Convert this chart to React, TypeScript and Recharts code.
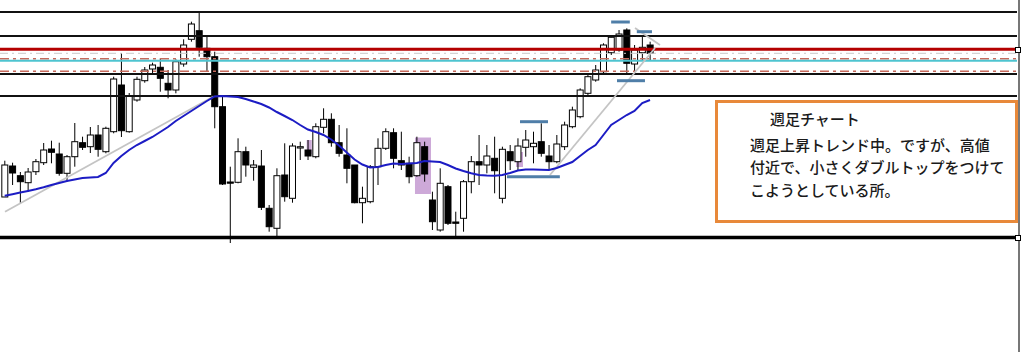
import { ComposedChart, Bar, Line, XAxis, YAxis, ReferenceLine, ReferenceArea } from 'recharts';

// weekly candles, price units (higher = up)
const opens = [53, 84, 74.3, 67.3, 78.3, 87.3, 101, 96, 76.7, 93.3, 107.3, 103.3, 115, 98.3, 118.3, 165, 118.3, 150, 169.3, 181, 182.7, 166.7, 160, 186, 210.7, 219.3, 201.7, 193.3, 143.3, 68, 67.7, 98.3, 82.7, 84, 41.7, 21.7, 75, 51.7, 102, 100, 93.3, 122.7, 130.7, 107.3, 95, 85, 47.3, 48.3, 83.3, 101.7, 117.3, 89.3, 86.7, 74.3, 103.3, 50, 20, 63.3, 28, 31.7, 68.3, 88.3, 85, 91.7, 51.7, 98.3, 88.3, 102.7, 103.3, 108.3, 94, 88.3, 103.3, 123.3, 133.3, 156.7, 170, 178.3, 197.3, 200, 220, 186, 197.3, 205];
const highs = [89.3, 87.3, 78, 82, 91, 107, 109.3, 107.3, 95, 127, 113.3, 123, 125, 123.3, 173.3, 197, 157, 173.3, 183, 187.3, 191.7, 180, 190.7, 210.7, 228.3, 237.5, 215, 198.3, 155, 83.3, 111.7, 103.3, 90, 100, 45, 81.7, 106.7, 106.7, 108.3, 110, 126.7, 141.7, 136.7, 125, 121.7, 85, 63.3, 85, 111.7, 121.7, 121.7, 118.3, 93.3, 113.3, 108.3, 58.3, 81.7, 65, 38.3, 70, 94, 115, 105, 113.3, 103.3, 105, 111.7, 120, 118.3, 126.7, 105, 115, 128.3, 143.3, 161.7, 175, 185, 206.7, 215, 220, 221.7, 205, 213.3, 208.3];
const lows = [53, 65, 47, 58.3, 75, 85, 86.7, 74.3, 68.3, 83.3, 100, 97, 93.3, 96.7, 116.7, 113, 117.3, 148.3, 167.3, 176.7, 158.3, 151.7, 156.7, 183.3, 208.3, 193.3, 178.3, 121.7, 65, 7, 66.7, 73.3, 69.3, 40, 18.3, 13.3, 48.3, 47.3, 90, 90, 91.7, 116.7, 103.3, 93.3, 66.7, 46.7, 26.7, 46.7, 65, 100, 81.7, 80, 66.7, 73.3, 68.3, 20, 18.3, 25, 11.7, 18.3, 56.7, 65, 76.7, 56.7, 46.7, 80, 80, 93.3, 86.7, 93.3, 80, 86.7, 100, 121.7, 131.7, 155, 168.3, 176.7, 195, 198.3, 176, 176, 190, 190];
const closes = [85, 77, 68.3, 78, 88.3, 100, 97.7, 76.7, 93.3, 108.3, 102.7, 115, 100.7, 121.7, 171, 119.3, 154, 170.7, 180, 185, 171.7, 160, 188.3, 205, 226, 202.7, 193.3, 143.3, 66, 67, 98.3, 85, 85, 42.7, 23.3, 74.3, 53.3, 104, 103.3, 94, 123.3, 130.7, 107.3, 96.7, 81.7, 47.3, 51.7, 83.3, 101.7, 118.3, 91.7, 85, 73.3, 107.3, 76, 28.3, 66.7, 26.7, 26.7, 68.3, 88.3, 85, 94, 79.3, 100.7, 89.3, 104, 110, 106.7, 96.7, 88.3, 106, 125, 140, 160, 173.3, 180, 205, 212.7, 216, 186.7, 200, 202.7, 196.7];
// 20-week moving average
const ma = [54.3, 55.8, 57.4, 59.1, 60.8, 62.7, 65, 67, 69, 70.5, 72, 72.5, 73, 77, 87, 94, 100, 105, 109, 113, 118, 123, 129, 134, 139, 144, 149, 153.5, 154, 153.5, 153, 151, 148.5, 146, 142.5, 138, 134, 130, 125, 120.5, 118, 115, 110.5, 104.5, 97.5, 90.5, 85.5, 82.5, 83, 85, 86.5, 86, 86.5, 87, 89, 88.5, 88, 85, 81.5, 79, 76.7, 75, 74.5, 74.3, 75, 77, 79.5, 80.5, 80.5, 80.3, 80, 82, 85, 88, 94, 100, 105, 115, 125, 130, 135, 139, 147, 150];

const levels = [
  { y: 238, color: '#111', width: 2, dash: undefined },
  { y: 214, color: '#111', width: 2, dash: undefined },
  { y: 200.7, color: '#b40000', width: 3, dash: undefined },
  { y: 196.7, color: '#c8c8c8', width: 1, dash: '8 4 2 4' },
  { y: 191.2, color: '#c66a5c', width: 1.5, dash: '9 4 3 4' },
  { y: 189.3, color: '#4ec4d0', width: 2, dash: undefined },
  { y: 178.7, color: '#c66a5c', width: 1.5, dash: '9 4 3 4' },
  { y: 176, color: '#111', width: 2, dash: undefined },
  { y: 154, color: '#111', width: 2, dash: undefined },
  { y: 12.5, color: '#000', width: 3.5, dash: undefined },
];

// highlight boxes [x1, x2, y1, y2]
const boxes = [
  [38.84, 39.49, 96, 110],
  [52.77, 54.83, 56, 112.5],
  [65.76, 66.66, 83, 98],
];

// short horizontal marks [x1, x2, y]
const marks = [
  [66.28, 69.88, 128.3],
  [64.6, 71.4, 73.3],
  [78.0, 80.4, 228],
  [78.75, 82.35, 169.3],
  [81.3, 83.25, 218.3],
];

// trend lines [x1, y1, x2, y2]
const trends = [
  [0.04, 38.3, 26.79, 153.3],
  [70.13, 75, 83.64, 202],
  [81.07, 222, 84.28, 205],
];

const data = opens.map((o, i) => ({
  i,
  open: o,
  high: highs[i],
  low: lows[i],
  close: closes[i],
  range: [lows[i], highs[i]],
  ma: ma[i],
}));

function Candle(props: any) {
  const { x, y, width, height, payload } = props;
  const { open, close, high, low } = payload;
  const k = height / (high - low || 1);
  const yv = (v: number) => y + (high - v) * k;
  const cx = x + width / 2;
  const top = yv(Math.max(open, close));
  const bot = yv(Math.min(open, close));
  return (
    <g>
      <line x1={cx} x2={cx} y1={y} y2={y + height} stroke="#000" strokeWidth={1} />
      <rect x={x} y={top} width={width} height={Math.max(bot - top, 1.2)} fill={close >= open ? '#fff' : '#000'} stroke="#000" strokeWidth={1} />
    </g>
  );
}

const textStyle: React.CSSProperties = {
  position: 'absolute',
  fontFamily: '"Noto Sans CJK JP", sans-serif',
  fontSize: 15,
  fontWeight: 500,
  color: '#1a1a1a',
  lineHeight: '20px',
  whiteSpace: 'nowrap',
};

export default function App() {
  return (
    <div style={{ position: 'absolute', left: 0, top: 0, width: 1024, height: 352, background: '#fff' }}>
      <ComposedChart width={1024} height={352} data={data} margin={{ top: 0, right: 7, bottom: 0, left: 0 }}>
        <XAxis dataKey="i" type="number" domain={[-0.6045, 130.2]} hide allowDataOverflow />
        <YAxis type="number" domain={[-102, 250]} hide allowDataOverflow />
        {levels.map((l, k) => (
          <ReferenceLine key={'l' + k} y={l.y} stroke={l.color} strokeWidth={l.width} strokeDasharray={l.dash} />
        ))}
        {boxes.map((b, k) => (
          <ReferenceArea key={'b' + k} x1={b[0]} x2={b[1]} y1={b[2]} y2={b[3]} fill="#c8a0d4" fillOpacity={0.9} stroke="none" />
        ))}
        {trends.map((t, k) => (
          <ReferenceLine key={'t' + k} segment={[{ x: t[0], y: t[1] }, { x: t[2], y: t[3] }]} stroke="#c4c4c4" strokeWidth={1.8} />
        ))}
        <Line dataKey="ma" stroke="#1c1cc4" strokeWidth={2} dot={false} activeDot={false} isAnimationActive={false} />
        <Bar dataKey="range" barSize={6} shape={<Candle />} isAnimationActive={false} />
        {marks.map((m, k) => (
          <ReferenceLine key={'m' + k} segment={[{ x: m[0], y: m[2] }, { x: m[1], y: m[2] }]} stroke="#4f7ea8" strokeWidth={3} />
        ))}
      </ComposedChart>
      <div style={{ position: 'absolute', left: 1018, top: 0, width: 1.5, height: 352, background: '#777' }} />
      <div style={{ position: 'absolute', left: 1015, top: 47, width: 4, height: 4, border: '1px solid #000', background: '#fff' }} />
      <div style={{ position: 'absolute', left: 1015, top: 235, width: 4, height: 4, border: '1px solid #000', background: '#fff' }} />
      <div style={{ position: 'absolute', left: 715, top: 100, width: 297, height: 117, border: '3px solid #e8893a' }} />
      <div style={{ ...textStyle, left: 770, top: 109 }}>週足チャート</div>
      <div style={{ ...textStyle, left: 750, top: 135 }}>週足上昇トレンド中。ですが、高値</div>
      <div style={{ ...textStyle, left: 750, top: 157 }}>付近で、小さくダブルトップをつけて</div>
      <div style={{ ...textStyle, left: 750, top: 180 }}>こようとしている所。</div>
    </div>
  );
}
